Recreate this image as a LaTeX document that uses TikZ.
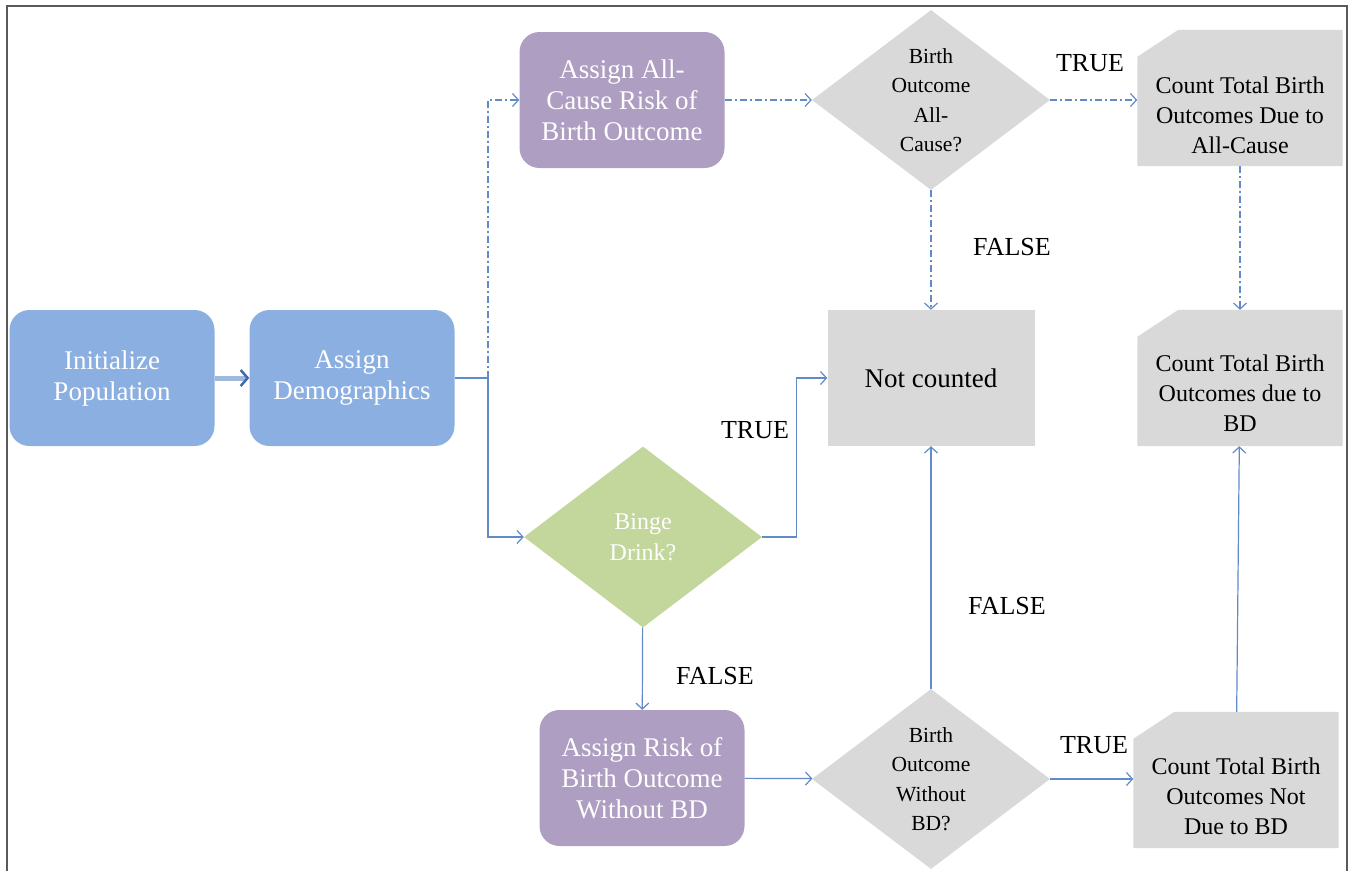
\documentclass[tikz,border=0pt]{standalone}
\usepackage{fontspec}
\setmainfont{Liberation Serif}
\usetikzlibrary{shapes.geometric, arrows.meta, backgrounds}
\definecolor{boxblue}{RGB}{138, 175, 224}
\definecolor{boxpurple}{RGB}{174, 158, 194}
\definecolor{boxgreen}{RGB}{195, 214, 155}
\definecolor{boxgray}{RGB}{217, 217, 217}
\definecolor{link}{RGB}{96, 138, 200}
\definecolor{linkdark}{RGB}{62, 106, 176}
\definecolor{shaft}{RGB}{160, 184, 222}
\definecolor{framegray}{RGB}{90, 90, 90}

\begin{document}
\begin{tikzpicture}[x=1pt, y=-1pt,
  task/.style={rectangle, rounded corners=20pt, minimum width=205pt, minimum height=136pt,
    inner sep=0pt, align=center, text=white, font=\fontsize{27}{31}\selectfont},
  tally/.style={rectangle, minimum width=205pt, minimum height=136pt, inner sep=0pt},
  tallytext/.style={align=center, font=\fontsize{24}{30}\selectfont},
  decide/.style={diamond, fill=boxgray, minimum width=238pt, minimum height=180pt, inner sep=0pt},
  dtext/.style={align=center, font=\fontsize{21.5}{29.5}\selectfont},
  verdict/.style={font=\fontsize{26}{30}\selectfont},
  flow/.style={draw=link, line width=1.2pt, -{Straight Barb[length=6pt, width=13pt]}},
  alt/.style={flow, dash pattern=on 7pt off 3pt on 2pt off 3pt}]
  \useasboundingbox (0, 0) rectangle (1353, 871);
  \draw[framegray, line width=2pt] (7, 871) -- (7, 6) -- (1347, 6) -- (1347, 871);

  \node[task, fill=boxblue] (init) at (112, 378) {Initialize\\Population};
  \node[task, fill=boxblue] (demo) at (352, 378) {Assign\\Demographics};
  \node[task, fill=boxpurple] (acrisk) at (622, 100) {Assign All-\\Cause Risk of\\Birth Outcome};
  \node[task, fill=boxpurple] (wrisk) at (642, 778) {Assign Risk of\\Birth Outcome\\Without BD};

  \node[decide] (acq) at (931, 100) {};
  \node[dtext] (acqtext) at (acq) {Birth\\Outcome\\All-\\Cause?};
  \node[decide] (wq) at (931, 779) {};
  \node[dtext] (wqtext) at (wq) {Birth\\Outcome\\Without\\BD?};
  \node[decide, fill=boxgreen, minimum height=181pt] (binge) at (643, 537) {};
  \node[dtext, text=white, font=\fontsize{24}{31}\selectfont] (bingetext) at (binge) {Binge\\Drink?};

  \node[rectangle, fill=boxgray, minimum width=207pt, minimum height=136pt,
    font=\fontsize{27}{31}\selectfont] (notc) at (931, 378) {Not counted};
  \node[tally] (acount) at (1240, 98) {};
  \node[tallytext] (acounttext) at (1240, 115) {Count Total Birth\\Outcomes Due to\\All-Cause};
  \node[tally] (bdcount) at (1240, 378) {};
  \node[tallytext] (bdcounttext) at (1240, 393) {Count Total Birth\\Outcomes due to\\BD};
  \node[tally] (ncount) at (1236, 780) {};
  \node[tallytext] (ncounttext) at (1236, 796) {Count Total Birth\\Outcomes Not\\Due to BD};

  \begin{scope}[on background layer]
    \foreach \n in {acount, bdcount, ncount}
      \fill[boxgray] ([yshift=-27pt]\n.north west) -- ([xshift=41pt]\n.north west)
        -- (\n.north east) -- (\n.south east) -- (\n.south west) -- cycle;
  \end{scope}

  \draw[shaft, line width=5pt, -{Straight Barb[color=linkdark, length=7pt, width=16pt, line width=2.5pt]}]
    (init) -- (demo);

  \coordinate (fork) at (488, 378);
  \draw[link, line width=1.2pt] (demo) -- (fork);
  \draw[flow] (fork) |- (binge);
  \draw[alt] (fork) |- (acrisk);
  \draw[alt] (acrisk) -- (acq);
  \draw[alt] (acq) -- (acq -| acount.west);
  \draw[alt] (acq) -- (notc);
  \draw[alt] (acount) -- (bdcount);
  \draw[flow] (binge.east) -- ++(34, 0) |- (notc);
  \draw[flow] (binge) -- (wrisk);
  \draw[flow] (wrisk) -- (wq);
  \draw[flow] (wq) -- (wq -| ncount.west);
  \draw[flow] (wq) -- (notc);
  \draw[flow] (ncount) -- (bdcount);

  \node[verdict] (t1) at (1090, 63) {TRUE};
  \node[verdict] (f1) at (1012, 247) {FALSE};
  \node[verdict] (t2) at (755, 430) {TRUE};
  \node[verdict] (f2) at (715, 676) {FALSE};
  \node[verdict] (f3) at (1007, 606) {FALSE};
  \node[verdict] (t3) at (1094, 745) {TRUE};
\end{tikzpicture}
\end{document}
